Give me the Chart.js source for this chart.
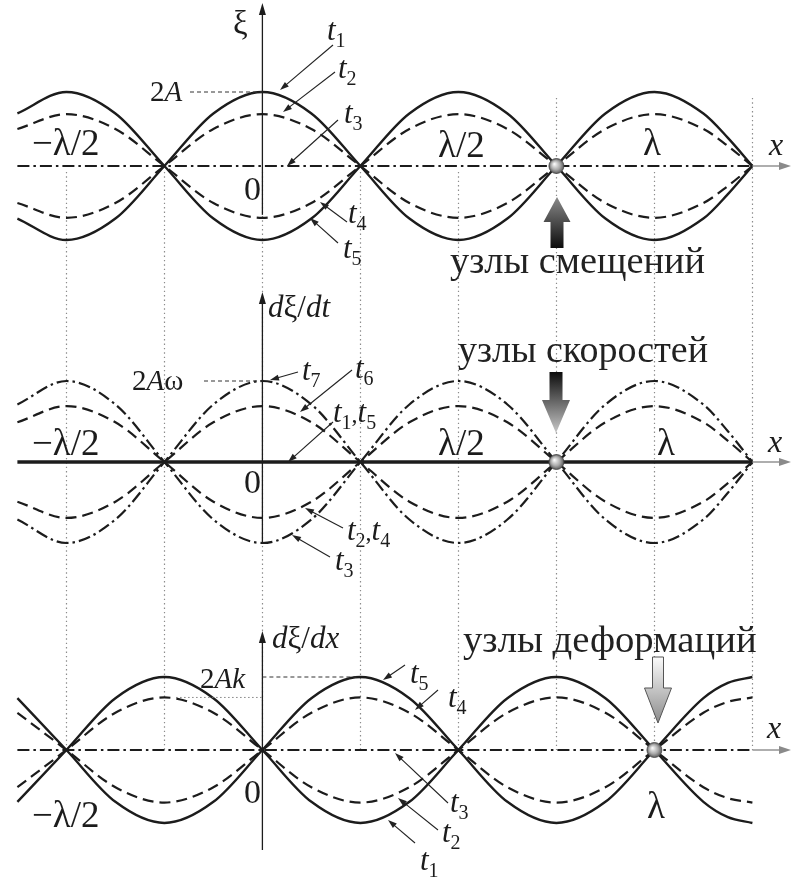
<!DOCTYPE html>
<html>
<head>
<meta charset="utf-8">
<script src="https://cdn.jsdelivr.net/npm/chart.js@4.4.1/dist/chart.umd.min.js"></script>
<style>
  html, body { margin: 0; background: #fff; }
  canvas { display: block; }
</style>
</head>
<body>
<canvas id="waves" width="791" height="877"></canvas>
<script>
// x in wavelengths (λ), every λ/8 plus one extra sample before the right end
const xs = [-0.625, -0.5, -0.375, -0.25, -0.125, 0, 0.125, 0.25, 0.375, 0.5, 0.625, 0.75, 0.875, 1, 1.125, 1.1875, 1.25];

// displacement ξ at t1..t5, units of 2A
const xiT1 = [-0.71, -1, -0.71, 0, 0.71, 1, 0.71, 0, -0.71, -1, -0.71, 0, 0.71, 1, 0.71, 0.38, 0];
const xiT2 = [-0.5, -0.7, -0.5, 0, 0.5, 0.7, 0.5, 0, -0.5, -0.7, -0.5, 0, 0.5, 0.7, 0.5, 0.27, 0];
const xiT3 = [0, 0, 0, 0, 0, 0, 0, 0, 0, 0, 0, 0, 0, 0, 0, 0, 0];
const xiT4 = [0.5, 0.7, 0.5, 0, -0.5, -0.7, -0.5, 0, 0.5, 0.7, 0.5, 0, -0.5, -0.7, -0.5, -0.27, 0];
const xiT5 = [0.71, 1, 0.71, 0, -0.71, -1, -0.71, 0, 0.71, 1, 0.71, 0, -0.71, -1, -0.71, -0.38, 0];

// velocity dξ/dt, units of 2Aω
const vT7 = [-0.71, -1, -0.71, 0, 0.71, 1, 0.71, 0, -0.71, -1, -0.71, 0, 0.71, 1, 0.71, 0.38, 0];
const vT6 = [-0.49, -0.69, -0.49, 0, 0.49, 0.69, 0.49, 0, -0.49, -0.69, -0.49, 0, 0.49, 0.69, 0.49, 0.26, 0];
const vT15 = [0, 0, 0, 0, 0, 0, 0, 0, 0, 0, 0, 0, 0, 0, 0, 0, 0];
const vT24 = [0.49, 0.69, 0.49, 0, -0.49, -0.69, -0.49, 0, 0.49, 0.69, 0.49, 0, -0.49, -0.69, -0.49, -0.26, 0];
const vT3 = [0.71, 1, 0.71, 0, -0.71, -1, -0.71, 0, 0.71, 1, 0.71, 0, -0.71, -1, -0.71, -0.38, 0];

// strain dξ/dx, units of 2Ak
const dT5 = [0.71, 0, -0.71, -1, -0.71, 0, 0.71, 1, 0.71, 0, -0.71, -1, -0.71, 0, 0.71, 0.92, 1];
const dT4 = [0.51, 0, -0.51, -0.72, -0.51, 0, 0.51, 0.72, 0.51, 0, -0.51, -0.72, -0.51, 0, 0.51, 0.66, 0.72];
const dT3 = [0, 0, 0, 0, 0, 0, 0, 0, 0, 0, 0, 0, 0, 0, 0, 0, 0];
const dT2 = [-0.51, 0, 0.51, 0.72, 0.51, 0, -0.51, -0.72, -0.51, 0, 0.51, 0.72, 0.51, 0, -0.51, -0.66, -0.72];
const dT1 = [-0.71, 0, 0.71, 1, 0.71, 0, -0.71, -1, -0.71, 0, 0.71, 1, 0.71, 0, -0.71, -0.92, -1];

// dotted guides every λ/4, and the marked node of each panel
const gridX = [-0.5, -0.25, 0, 0.25, 0.5, 0.75, 1, 1.25];
const tallGridX = [0.75, 1.25];
const nodeX = [0.75, 0.75, 1];
const nodeCaptions = ['узлы смещений', 'узлы скоростей', 'узлы деформаций'];

// ---- layout ----
const W = 791, H = 877;
const X0 = 262.4, LAMBDA = 392;              // px of x = 0, px per λ
const panels = [
  { id: 'y1', base: 166, unit: 74 },
  { id: 'y2', base: 462, unit: 81 },
  { id: 'y3', base: 750, unit: 73 }
];
const SERIF = '"Liberation Serif", "Times New Roman", Times, "DejaVu Serif", serif';
const INK = '#1c1c1c';

const SOLID = { w: 2.4, dash: [] };
const DASHED = { w: 2.2, dash: [11, 6] };
const DASHDOT = { w: 2.2, dash: [12, 4, 2.5, 4] };
const AXIS = { w: 3.4, dash: [] };

function series(label, ys, axis, st) {
  return {
    label,
    data: xs.map((x, i) => ({ x, y: ys[i] })),
    yAxisID: axis,
    borderColor: INK,
    borderWidth: st.w,
    borderDash: st.dash,
    borderCapStyle: 'butt',
    pointRadius: 0,
    fill: false,
    cubicInterpolationMode: 'monotone'
  };
}

const scales = {
  x: { type: 'linear', display: false, min: -X0 / LAMBDA, max: (W - X0) / LAMBDA }
};
panels.forEach(p => {
  scales[p.id] = { type: 'linear', display: false, min: -(H - p.base) / p.unit, max: p.base / p.unit };
});

// ---- drawing helpers ----
function rich(ctx, x, y, parts) {
  let cx = x;
  parts.forEach(p => {
    ctx.font = (p.i ? 'italic ' : '') + p.s + 'px ' + SERIF;
    ctx.fillText(p.t, cx, y + (p.dy || 0));
    cx += ctx.measureText(p.t).width + (p.sp || 0);
  });
}
const T = (n) => [{ t: 't', i: 1, s: 31 }, { t: n, s: 20, dy: 7 }];

function pointer(ctx, x1, y1, x2, y2) {
  const a = Math.atan2(y2 - y1, x2 - x1), L = 9, hw = 3;
  ctx.beginPath();
  ctx.moveTo(x1, y1);
  ctx.lineTo(x2 - Math.cos(a) * L * 0.7, y2 - Math.sin(a) * L * 0.7);
  ctx.stroke();
  ctx.beginPath();
  ctx.moveTo(x2, y2);
  ctx.lineTo(x2 - Math.cos(a) * L - Math.sin(a) * hw, y2 - Math.sin(a) * L + Math.cos(a) * hw);
  ctx.lineTo(x2 - Math.cos(a) * L + Math.sin(a) * hw, y2 - Math.sin(a) * L - Math.cos(a) * hw);
  ctx.closePath();
  ctx.fill();
}

function yAxisLine(ctx, x, top, bottom) {
  ctx.strokeStyle = INK; ctx.fillStyle = INK; ctx.lineWidth = 1.3; ctx.setLineDash([]);
  ctx.beginPath(); ctx.moveTo(x, bottom); ctx.lineTo(x, top + 8); ctx.stroke();
  ctx.beginPath(); ctx.moveTo(x, top); ctx.lineTo(x - 3.5, top + 12); ctx.lineTo(x + 3.5, top + 12); ctx.closePath(); ctx.fill();
}

function xAxisTail(ctx, x1, y) {
  ctx.strokeStyle = '#9a9a9a'; ctx.fillStyle = '#8a8a8a'; ctx.lineWidth = 1.6; ctx.setLineDash([]);
  ctx.beginPath(); ctx.moveTo(x1, y); ctx.lineTo(782, y); ctx.stroke();
  ctx.beginPath(); ctx.moveTo(791, y); ctx.lineTo(779, y - 4); ctx.lineTo(779, y + 4); ctx.closePath(); ctx.fill();
}

function sphere(ctx, x, y) {
  const g = ctx.createRadialGradient(x - 2, y - 2, 0.5, x, y, 7.5);
  g.addColorStop(0, '#f6f6f6');
  g.addColorStop(0.6, '#a8a8a8');
  g.addColorStop(1, '#5a5a5a');
  ctx.fillStyle = g;
  ctx.beginPath(); ctx.arc(x, y, 7.5, 0, Math.PI * 2); ctx.fill();
  ctx.strokeStyle = '#444'; ctx.lineWidth = 0.8; ctx.setLineDash([]); ctx.stroke();
}

function blockArrow(ctx, cx, yTail, yBase, yTip, sh, hh, c1, c2, stroke) {
  const g = ctx.createLinearGradient(0, yTail, 0, yTip);
  g.addColorStop(0, c1); g.addColorStop(1, c2);
  ctx.beginPath();
  ctx.moveTo(cx - sh, yTail); ctx.lineTo(cx + sh, yTail); ctx.lineTo(cx + sh, yBase);
  ctx.lineTo(cx + hh, yBase); ctx.lineTo(cx, yTip); ctx.lineTo(cx - hh, yBase);
  ctx.lineTo(cx - sh, yBase); ctx.closePath();
  ctx.fillStyle = g; ctx.fill();
  if (stroke) { ctx.strokeStyle = stroke; ctx.lineWidth = 1; ctx.setLineDash([]); ctx.stroke(); }
}

function caption(ctx, text, left, right, baseline) {
  ctx.font = '40px ' + SERIF;
  const size = 40 * (right - left) / ctx.measureText(text).width;
  ctx.font = size.toFixed(1) + 'px ' + SERIF;
  ctx.fillText(text, left, baseline);
}

const decor = {
  id: 'decor',
  beforeDatasetsDraw(chart) {
    const ctx = chart.ctx, sx = chart.scales.x;
    const y1 = chart.scales.y1, y3 = chart.scales.y3;
    ctx.save();
    ctx.strokeStyle = '#8c8c8c'; ctx.lineWidth = 1.2; ctx.setLineDash([1.4, 3]);
    gridX.forEach(gx => {
      const px = Math.round(sx.getPixelForValue(gx)) + 0.5;
      const top = tallGridX.includes(gx) ? y1.getPixelForValue(0.92) : y1.getPixelForValue(-0.08);
      ctx.beginPath(); ctx.moveTo(px, top); ctx.lineTo(px, y3.getPixelForValue(0)); ctx.stroke();
    });
    ctx.restore();
  },
  afterDatasetsDraw(chart) {
    const ctx = chart.ctx, sx = chart.scales.x;
    const ys = panels.map(p => chart.scales[p.id]);
    const ox = sx.getPixelForValue(0), endX = sx.getPixelForValue(1.25);
    ctx.save();

    // axes
    yAxisLine(ctx, ox, 3, ys[0].getPixelForValue(-0.66));
    yAxisLine(ctx, ox, 292, ys[1].getPixelForValue(-1));
    yAxisLine(ctx, ox, 631, 850);
    ys.forEach(s => xAxisTail(ctx, endX, s.getPixelForValue(0)));

    // value guides at the y axis
    ctx.strokeStyle = '#333'; ctx.lineWidth = 1; ctx.setLineDash([4, 3]);
    ctx.beginPath(); ctx.moveTo(190, ys[0].getPixelForValue(1)); ctx.lineTo(ox, ys[0].getPixelForValue(1)); ctx.stroke();
    ctx.beginPath(); ctx.moveTo(204, ys[1].getPixelForValue(1)); ctx.lineTo(ox, ys[1].getPixelForValue(1)); ctx.stroke();
    ctx.beginPath(); ctx.moveTo(ox, ys[2].getPixelForValue(1)); ctx.lineTo(sx.getPixelForValue(0.24), ys[2].getPixelForValue(1)); ctx.stroke();
    ctx.strokeStyle = '#777'; ctx.setLineDash([1.4, 2.6]);
    ctx.beginPath(); ctx.moveTo(sx.getPixelForValue(-0.22), ys[2].getPixelForValue(0.72)); ctx.lineTo(ox, ys[2].getPixelForValue(0.72)); ctx.stroke();
    ctx.setLineDash([]);

    // nodes with arrows and captions
    nodeX.forEach((nx, i) => sphere(ctx, sx.getPixelForValue(nx), ys[i].getPixelForValue(0)));
    blockArrow(ctx, 557, 248, 222, 197, 6.5, 13.5, '#0c0c0c', '#8a8a8a');
    blockArrow(ctx, 556, 372, 400, 433, 6.5, 14, '#0c0c0c', '#c8c8c8');
    blockArrow(ctx, 658, 657, 688, 723, 5.5, 13.5, '#fbfbfb', '#8c8c8c', '#555');
    ctx.fillStyle = '#222';
    caption(ctx, nodeCaptions[0], 450, 705, 273);
    caption(ctx, nodeCaptions[1], 458, 708, 362);
    caption(ctx, nodeCaptions[2], 463, 757, 652);

    // axis names, ticks, levels
    ctx.fillStyle = INK;
    rich(ctx, 233, 34, [{ t: 'ξ', s: 33 }]);
    rich(ctx, 268, 317, [{ t: 'd', i: 1, s: 31 }, { t: 'ξ', s: 31 }, { t: '/', s: 31 }, { t: 'dt', i: 1, s: 31 }]);
    rich(ctx, 272, 648, [{ t: 'd', i: 1, s: 31 }, { t: 'ξ', s: 31 }, { t: '/', s: 31 }, { t: 'dx', i: 1, s: 31 }]);
    rich(ctx, 150, 101, [{ t: '2', s: 29 }, { t: 'A', i: 1, s: 29 }]);
    rich(ctx, 132, 390, [{ t: '2', s: 29 }, { t: 'A', i: 1, s: 29 }, { t: 'ω', s: 29 }]);
    rich(ctx, 200, 688, [{ t: '2', s: 29 }, { t: 'A', i: 1, s: 29 }, { t: 'k', i: 1, s: 29 }]);
    [[155, 200], [455, 493], [827, 803]].forEach(([lb, zb]) => {
      rich(ctx, 32, lb, [{ t: '−λ/2', s: 37 }]);
      rich(ctx, 244, zb, [{ t: '0', s: 34 }]);
    });
    rich(ctx, 438, 157, [{ t: 'λ/2', s: 37 }]);
    rich(ctx, 643, 155, [{ t: 'λ', s: 37 }]);
    rich(ctx, 438, 455, [{ t: 'λ/2', s: 37 }]);
    rich(ctx, 657, 455, [{ t: 'λ', s: 37 }]);
    rich(ctx, 647, 818, [{ t: 'λ', s: 37 }]);
    rich(ctx, 769, 155, [{ t: 'x', i: 1, s: 32 }]);
    rich(ctx, 768, 452, [{ t: 'x', i: 1, s: 32 }]);
    rich(ctx, 767, 738, [{ t: 'x', i: 1, s: 32 }]);

    // time labels
    rich(ctx, 327, 40, T('1'));
    rich(ctx, 338, 78, T('2'));
    rich(ctx, 344, 123, T('3'));
    rich(ctx, 348, 223, T('4'));
    rich(ctx, 343, 258, T('5'));
    rich(ctx, 302, 380, T('7'));
    rich(ctx, 355, 378, T('6'));
    rich(ctx, 333, 422, T('1').concat([{ t: ',', s: 24 }], T('5')));
    rich(ctx, 347, 540, T('2').concat([{ t: ',', s: 24 }], T('4')));
    rich(ctx, 335, 570, T('3'));
    rich(ctx, 410, 683, T('5'));
    rich(ctx, 448, 707, T('4'));
    rich(ctx, 450, 812, T('3'));
    rich(ctx, 442, 842, T('2'));
    rich(ctx, 420, 870, T('1'));

    ctx.strokeStyle = '#222'; ctx.fillStyle = '#222'; ctx.lineWidth = 1.1;
    [
      [333, 45, 280, 90], [335, 72, 283, 112], [338, 120, 287, 166], [347, 222, 320, 202], [338, 243, 310, 218],
      [298, 372, 270, 380], [352, 370, 300, 412], [333, 422, 288, 462], [343, 528, 305, 508], [330, 557, 292, 535],
      [405, 665, 383, 680], [438, 690, 415, 710], [448, 803, 395, 753], [438, 830, 398, 798], [415, 843, 388, 820]
    ].forEach(a => pointer(ctx, a[0], a[1], a[2], a[3]));

    ctx.restore();
  }
};

new Chart(document.getElementById('waves'), {
  type: 'line',
  data: {
    datasets: [
      series('t3', xiT3, 'y1', DASHDOT),
      series('t1', xiT1, 'y1', SOLID),
      series('t2', xiT2, 'y1', DASHED),
      series('t4', xiT4, 'y1', DASHED),
      series('t5', xiT5, 'y1', SOLID),
      series('t1,t5', vT15, 'y2', AXIS),
      series('t7', vT7, 'y2', DASHDOT),
      series('t6', vT6, 'y2', DASHED),
      series('t2,t4', vT24, 'y2', DASHED),
      series('t3', vT3, 'y2', DASHDOT),
      series('t3', dT3, 'y3', DASHDOT),
      series('t5', dT5, 'y3', SOLID),
      series('t4', dT4, 'y3', DASHED),
      series('t2', dT2, 'y3', DASHED),
      series('t1', dT1, 'y3', SOLID)
    ]
  },
  options: {
    responsive: false,
    animation: false,
    layout: { padding: 0 },
    scales,
    plugins: { legend: { display: false }, tooltip: { enabled: false } }
  },
  plugins: [decor]
});
</script>
</body>
</html>
